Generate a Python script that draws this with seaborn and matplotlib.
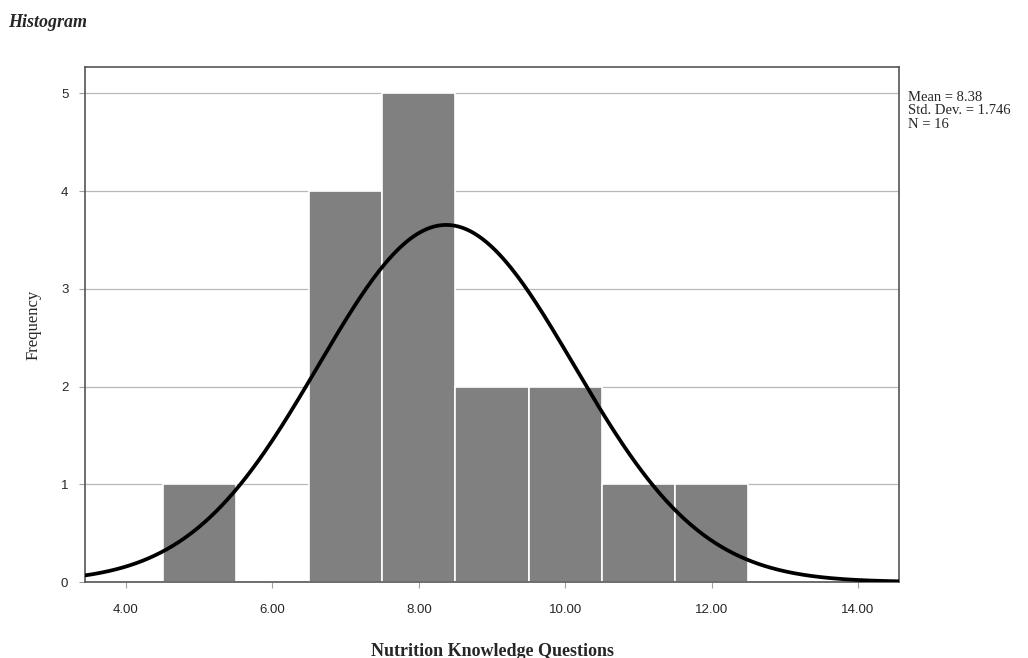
import numpy as np
import pandas as pd
import matplotlib
matplotlib.use("Agg")
import matplotlib.pyplot as plt
import seaborn as sns

# score values (bin centres) and how many respondents got each score
scores = [5, 7, 8, 9, 10, 11, 12]
counts = [1, 4, 5, 2, 2, 1, 1]
xticks = [4, 6, 8, 10, 12, 14]
yticks = [0, 1, 2, 3, 4, 5]

obs = np.repeat(scores, counts).astype(float)
mean = obs.mean()
sd = obs.std(ddof=1)
n = len(obs)

sns.set_style("white")
fig = plt.figure(figsize=(10.28, 6.58), dpi=100)
ax = fig.add_axes([0.0827, 0.1155, 0.7918, 0.7825])

edges = np.arange(4.5, 13.0, 1.0)
sns.histplot(x=obs, bins=edges, ax=ax, color="#808080", alpha=1.0,
             edgecolor="white", linewidth=1.2, zorder=2)

# fitted normal curve, scaled to counts (bin width 1)
xs = np.linspace(3.44, 14.56, 400)
curve = pd.DataFrame({"x": xs,
                      "y": n * np.exp(-0.5 * ((xs - mean) / sd) ** 2) / (sd * np.sqrt(2 * np.pi))})
sns.lineplot(data=curve, x="x", y="y", ax=ax, color="black", linewidth=2.7, zorder=3)

ax.set_xlim(3.44, 14.56)
ax.set_ylim(0, 5.27)
ax.set_xticks(xticks)
ax.set_xticklabels([f"{t:.2f}" for t in xticks])
ax.set_yticks(yticks)
ax.yaxis.grid(True, color="#b8b8b8", linewidth=0.9, zorder=0)
ax.set_axisbelow(True)
ax.tick_params(axis="both", which="major", length=4, width=0.8, color="#a0a0a0",
               labelsize=9.5, direction="out", left=True, bottom=True)
ax.tick_params(axis="x", pad=12)
ax.tick_params(axis="y", pad=8)
for lab in ax.get_xticklabels() + ax.get_yticklabels():
    lab.set_family("Liberation Sans")
for s in ax.spines.values():
    s.set_color("#555555")
    s.set_linewidth(1.2)

ax.set_xlabel("Nutrition Knowledge Questions", family="Liberation Serif",
              fontweight="bold", fontsize=13, labelpad=19)
ax.set_ylabel("Frequency", family="Liberation Serif", fontsize=12, labelpad=14)

fig.text(0.008, 0.966, "Histogram", family="Liberation Serif", fontweight="bold",
         fontstyle="italic", fontsize=13, va="center", ha="left")
fig.text(0.883, 0.862, f"Mean = {mean:.2f}\nStd. Dev. = {sd:.3f}\nN = {n}",
         family="Liberation Serif", fontsize=10.5, va="top", ha="left", linespacing=1.05)

fig.savefig("out.png", dpi=100)
